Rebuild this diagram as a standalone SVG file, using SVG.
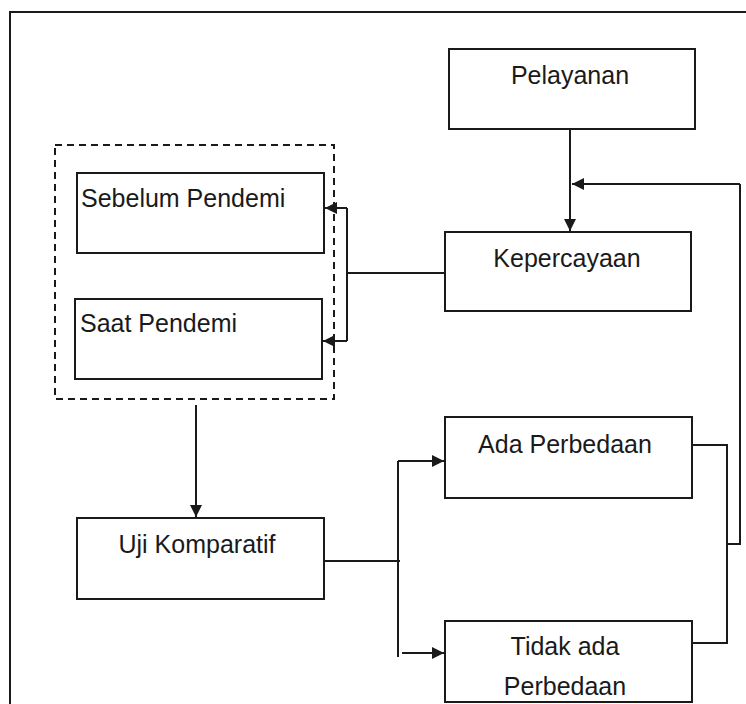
<svg xmlns="http://www.w3.org/2000/svg" width="746" height="704" viewBox="0 0 746 704">
<style>
.box{fill:#fff;stroke:#1a1a1a;stroke-width:2}
.ln{fill:none;stroke:#1a1a1a;stroke-width:2}
.t{font-family:"Liberation Sans",Arial,sans-serif;font-size:25px;fill:#1a1a1a}
.c{text-anchor:middle}
</style>
<defs>
<marker id="ah" markerWidth="14" markerHeight="14" refX="12" refY="6" orient="auto" markerUnits="userSpaceOnUse">
<path d="M0,0 L12,6 L0,12 Z" fill="#1a1a1a"/>
</marker>
</defs>
<rect width="746" height="704" fill="#fff"/>
<path class="ln" d="M10,720 V12 H760"/>
<rect x="55" y="145" width="279" height="254" fill="none" stroke="#1a1a1a" stroke-width="2" stroke-dasharray="7,5"/>
<g id="pelayanan"><rect class="box" x="449" y="49" width="246" height="80"/><text class="t c" x="570" y="84">Pelayanan</text></g>
<g id="kepercayaan"><rect class="box" x="445" y="232" width="246" height="79"/><text class="t c" x="567" y="267">Kepercayaan</text></g>
<g id="sebelum"><rect class="box" x="77" y="173" width="247" height="80"/><text class="t" x="81" y="207">Sebelum Pendemi</text></g>
<g id="saat"><rect class="box" x="75" y="299" width="247" height="80"/><text class="t" x="80" y="332">Saat Pendemi</text></g>
<g id="uji"><rect class="box" x="77" y="518" width="247" height="81"/><text class="t c" x="197" y="553">Uji Komparatif</text></g>
<g id="ada"><rect class="box" x="445" y="417" width="247" height="81"/><text class="t c" x="565" y="453">Ada Perbedaan</text></g>
<g id="tidak"><rect class="box" x="445" y="621" width="247" height="81"/><text class="t c" x="565" y="655">Tidak ada</text><text class="t c" x="565" y="695">Perbedaan</text></g>
<g id="connectors">
<path class="ln" d="M570,129 V231" marker-end="url(#ah)"/>
<path class="ln" d="M740,184 H572" marker-end="url(#ah)"/>
<path class="ln" d="M740,184 V544 H727"/>
<path class="ln" d="M693,445 H727 V643 H693"/>
<path class="ln" d="M445,273 H347"/>
<path class="ln" d="M347,208 V341"/>
<path class="ln" d="M347,208 H325" marker-end="url(#ah)"/>
<path class="ln" d="M347,341 H323" marker-end="url(#ah)"/>
<path class="ln" d="M196,405 V517" marker-end="url(#ah)"/>
<path class="ln" d="M324,561 H400"/>
<path class="ln" d="M398,461 V657"/>
<path class="ln" d="M398,461 H444" marker-end="url(#ah)"/>
<path class="ln" d="M402,653 H444" marker-end="url(#ah)"/>
</g>
</svg>
